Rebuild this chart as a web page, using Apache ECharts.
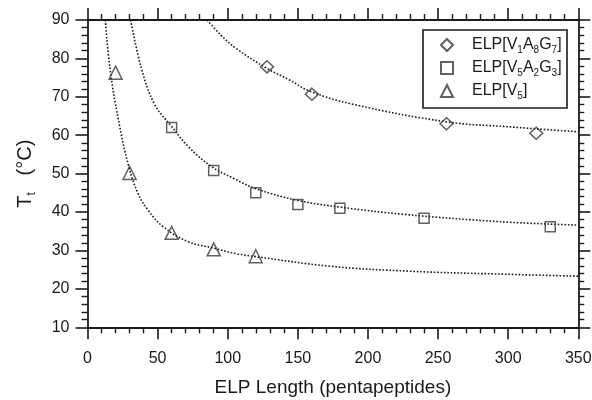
<!DOCTYPE html>
<html>
<head>
<meta charset="utf-8">
<script src="https://cdn.jsdelivr.net/npm/echarts@6/dist/echarts.min.js"></script>
<style>
  html, body { margin: 0; padding: 0; background: #fff; }
  #chart { width: 592px; height: 400px; }
</style>
</head>
<body>
<div id="chart"></div>
<script>
// measured points (pentapeptides, Tt in °C)
const diamondLen = [128, 160, 256, 320];
const diamondTt = [77.8, 70.7, 63.0, 60.5];
const squareLen = [60, 90, 120, 150, 180, 240, 330];
const squareTt = [62.0, 50.8, 45.0, 42.0, 41.0, 38.4, 36.2];
const triLen = [20, 30, 60, 90, 120];
const triTt = [76.3, 50.2, 34.6, 30.3, 28.5];

// dotted fit curves
const diamondFitLen = [85.4, 95, 106, 128, 144, 159, 190, 256, 300, 350];
const diamondFitTt = [90, 86.1, 82.6, 77.4, 74.4, 71.4, 68.0, 63.5, 62.2, 60.9];
const squareFitLen = [30.8, 38.4, 47.9, 60, 71.7, 88.3, 104, 120, 149, 180, 226, 294, 350];
const squareFitTt = [90, 77.5, 68.0, 62.3, 57.1, 51.9, 48.8, 46.1, 43.1, 41.3, 39.4, 37.5, 36.6];
const triFitLen = [12.7, 16, 21.8, 29.4, 36, 43.2, 53.9, 71.7, 90, 107, 120, 173, 230, 290, 350];
const triFitTt = [90, 77.5, 64.5, 51.9, 44.9, 40.5, 36.2, 32.3, 30.6, 29.1, 28.4, 25.9, 24.6, 23.9, 23.3];

const seriesNames = ['ELP[V1A8G7]', 'ELP[V5A2G3]', 'ELP[V5]'];
const legendLabels = {
  'ELP[V1A8G7]': 'ELP[V{s|1}A{s|8}G{s|7}]',
  'ELP[V5A2G3]': 'ELP[V{s|5}A{s|2}G{s|3}]',
  'ELP[V5]': 'ELP[V{s|5}]',
};

const INK = '#1a1a1a';
const MARK = '#3a3a3a';
const FONT = '"Liberation Sans", Arial, sans-serif';

const zip = (xs, ys) => xs.map((x, i) => [x, ys[i]]);

function axisBase(extra) {
  return Object.assign({
    type: 'value',
    axisLine: { show: true, onZero: false, lineStyle: { color: INK, width: 1.8 } },
    axisTick: { show: true, inside: false, length: 12, lineStyle: { color: INK, width: 1.6 } },
    minorTick: { show: true, splitNumber: 5, length: 6, lineStyle: { color: INK, width: 1.4 } },
    splitLine: { show: false },
    minorSplitLine: { show: false },
    axisLabel: { show: false },
  }, extra);
}

const hollow = { color: 'rgba(0,0,0,0)', borderColor: MARK, borderWidth: 1.5 };

const fitLine = (data) => ({
  type: 'line',
  data: data,
  smooth: 0.4,
  showSymbol: false,
  symbol: 'none',
  silent: true,
  clip: true,
  z: 1,
  lineStyle: { color: INK, width: 1.6, type: [1.6, 1.8], cap: 'butt' },
});

const markers = (name, data, symbol, size) => ({
  name: name,
  type: 'scatter',
  data: data,
  symbol: symbol,
  symbolSize: size,
  itemStyle: hollow,
  z: 3,
});

const chart = echarts.init(document.getElementById('chart'), null, { renderer: 'canvas' });

chart.setOption({
  animation: false,
  textStyle: { fontFamily: FONT },
  grid: { left: 87.5, right: 13.7, top: 20, bottom: 72.7, outerBoundsMode: 'none' },
  legend: {
    data: seriesNames,
    orient: 'vertical',
    left: 423,
    top: 30,
    itemWidth: 12,
    itemHeight: 12,
    itemGap: 3,
    padding: [5, 4, 7, 17],
    borderColor: INK,
    borderWidth: 1.6,
    borderRadius: 0,
    formatter: (name) => legendLabels[name],
    textStyle: {
      fontSize: 16,
      color: INK,
      fontFamily: FONT,
      lineHeight: 20,
      width: 91,
      padding: [0, 0, 0, 14],
      rich: {
        s: { fontSize: 10, lineHeight: 10, verticalAlign: 'bottom', fontFamily: FONT, color: INK },
      },
    },
  },
  xAxis: [
    axisBase({
      min: 0, max: 350, interval: 50, position: 'bottom',
      axisLabel: { show: true, fontSize: 16, color: INK, margin: 23, fontFamily: FONT },
      name: 'ELP Length (pentapeptides)',
      nameLocation: 'middle',
      nameGap: 51,
      nameTextStyle: { fontSize: 19, color: INK, fontFamily: FONT },
    }),
    axisBase({ min: 0, max: 350, interval: 50, position: 'top' }),
  ],
  yAxis: [
    axisBase({
      min: 10, max: 90, interval: 10, position: 'left',
      axisLabel: { show: true, fontSize: 16, color: INK, margin: 18, fontFamily: FONT },
      name: 'T{s|t}   (°C)',
      nameLocation: 'middle',
      nameGap: 50,
      nameTextStyle: {
        fontSize: 20, color: INK, fontFamily: FONT, lineHeight: 24,
        rich: { s: { fontSize: 12, lineHeight: 12, verticalAlign: 'bottom', fontFamily: FONT, color: INK } },
      },
    }),
    axisBase({ min: 10, max: 90, interval: 10, position: 'right' }),
  ],
  series: [
    fitLine(zip(diamondFitLen, diamondFitTt)),
    fitLine(zip(squareFitLen, squareFitTt)),
    fitLine(zip(triFitLen, triFitTt)),
    markers(seriesNames[0], zip(diamondLen, diamondTt), 'path://M0,-1L1,0L0,1L-1,0Z', [13, 12]),
    markers(seriesNames[1], zip(squareLen, squareTt), 'rect', 10),
    markers(seriesNames[2], zip(triLen, triTt), 'triangle', 13),
  ],
});
</script>
</body>
</html>
